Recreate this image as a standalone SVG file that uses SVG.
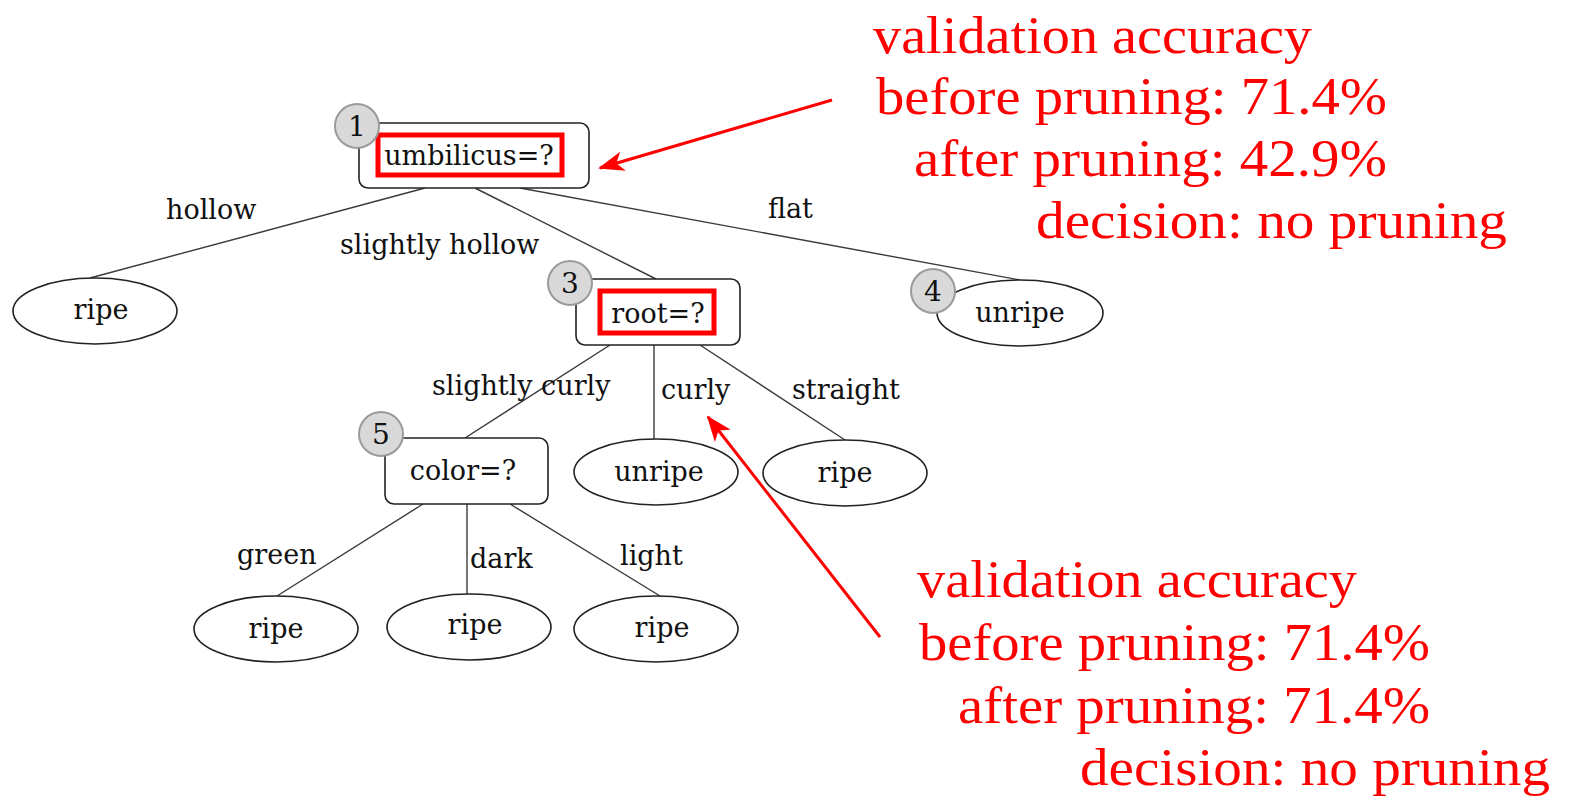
<svg xmlns="http://www.w3.org/2000/svg" width="1571" height="801" viewBox="0 0 1571 801">
  <style>
    .edge { stroke: #3a3a3a; stroke-width: 1.4; fill: none; }
    .box { fill: #ffffff; stroke: #222222; stroke-width: 1.6; }
    .leaf { fill: #ffffff; stroke: #222222; stroke-width: 1.6; }
    .badge { fill: #d9d9d9; stroke: #9a9a9a; stroke-width: 2; }
    .hl { fill: none; stroke: #ff0000; stroke-width: 5; }
    .t { font-family: "DejaVu Serif", "Liberation Serif", serif; font-size: 27px; fill: #111111; }
    .lbl { font-family: "DejaVu Serif", "Liberation Serif", serif; font-size: 27px; fill: #111111; }
    .num { font-family: "DejaVu Serif", "Liberation Serif", serif; font-size: 28px; fill: #111111; text-anchor: middle; }
    .note { font-family: "Liberation Serif", serif; font-size: 53px; fill: #ff0000; }
    .arrow { stroke: #ff0000; stroke-width: 3; fill: none; }
  </style>
  <defs>
    <marker id="stealth" viewBox="0 0 26 20" refX="24" refY="10" markerWidth="26" markerHeight="20" markerUnits="userSpaceOnUse" orient="auto">
      <path d="M0,0 L26,10 L0,20 L7,10 Z" fill="#ff0000"/>
    </marker>
  </defs>

  <g id="connectors">
    <line class="edge" x1="425" y1="188" x2="90" y2="278"/>
    <line class="edge" x1="475" y1="188" x2="656" y2="279"/>
    <line class="edge" x1="520" y1="188" x2="1020" y2="280"/>
    <line class="edge" x1="610" y1="345" x2="465" y2="438"/>
    <line class="edge" x1="654" y1="345" x2="654" y2="439"/>
    <line class="edge" x1="700" y1="345" x2="845" y2="440"/>
    <line class="edge" x1="423" y1="504" x2="277" y2="596"/>
    <line class="edge" x1="467" y1="504" x2="467" y2="594"/>
    <line class="edge" x1="510" y1="504" x2="660" y2="596"/>
    <text class="lbl" x="166" y="219">hollow</text>
    <text class="lbl" x="340" y="254">slightly hollow</text>
    <text class="lbl" x="768" y="218">flat</text>
    <text class="lbl" x="432" y="395">slightly curly</text>
    <text class="lbl" x="661" y="399">curly</text>
    <text class="lbl" x="792" y="399">straight</text>
    <text class="lbl" x="237" y="564">green</text>
    <text class="lbl" x="470" y="568">dark</text>
    <text class="lbl" x="620" y="565">light</text>
  </g>

  <g id="node1">
    <rect class="box" x="359" y="123" width="230" height="65" rx="9"/>
    <rect class="hl" x="378" y="135" width="184" height="40"/>
    <text class="t" x="469" y="165" text-anchor="middle">umbilicus=?</text>
    <circle class="badge" cx="357" cy="126" r="22"/>
    <text class="num" x="357" y="136">1</text>
  </g>

  <g id="leaf-hollow">
    <ellipse class="leaf" cx="95" cy="311" rx="82" ry="33"/>
    <text class="t" x="101" y="319" text-anchor="middle">ripe</text>
  </g>

  <g id="node3">
    <rect class="box" x="576" y="279" width="164" height="66" rx="9"/>
    <rect class="hl" x="600" y="291" width="114" height="42"/>
    <text class="t" x="658" y="323" text-anchor="middle">root=?</text>
    <circle class="badge" cx="570" cy="283" r="22"/>
    <text class="num" x="570" y="293">3</text>
  </g>

  <g id="node4">
    <ellipse class="leaf" cx="1020" cy="313" rx="83" ry="33"/>
    <text class="t" x="1020" y="322" text-anchor="middle">unripe</text>
    <circle class="badge" cx="933" cy="291" r="22"/>
    <text class="num" x="933" y="301">4</text>
  </g>

  <g id="node5">
    <rect class="box" x="385" y="438" width="163" height="66" rx="9"/>
    <text class="t" x="463" y="480" text-anchor="middle">color=?</text>
    <circle class="badge" cx="381" cy="434" r="22"/>
    <text class="num" x="381" y="444">5</text>
  </g>

  <g id="leaf-curly">
    <ellipse class="leaf" cx="656" cy="472" rx="82" ry="33"/>
    <text class="t" x="659" y="481" text-anchor="middle">unripe</text>
  </g>

  <g id="leaf-straight">
    <ellipse class="leaf" cx="845" cy="473" rx="82" ry="33"/>
    <text class="t" x="845" y="482" text-anchor="middle">ripe</text>
  </g>

  <g id="leaf-green">
    <ellipse class="leaf" cx="276" cy="629" rx="82" ry="33"/>
    <text class="t" x="276" y="638" text-anchor="middle">ripe</text>
  </g>

  <g id="leaf-dark">
    <ellipse class="leaf" cx="469" cy="627" rx="82" ry="33"/>
    <text class="t" x="475" y="634" text-anchor="middle">ripe</text>
  </g>

  <g id="leaf-light">
    <ellipse class="leaf" cx="656" cy="629" rx="82" ry="33"/>
    <text class="t" x="662" y="637" text-anchor="middle">ripe</text>
  </g>

  <g id="note-umbilicus">
    <line class="arrow" x1="832" y1="100" x2="600" y2="168" marker-end="url(#stealth)"/>
    <text class="note" x="873" y="53" textLength="439" lengthAdjust="spacingAndGlyphs">validation accuracy</text>
    <text class="note" x="876" y="114" textLength="511" lengthAdjust="spacingAndGlyphs">before pruning: 71.4%</text>
    <text class="note" x="914" y="176" textLength="473" lengthAdjust="spacingAndGlyphs">after pruning: 42.9%</text>
    <text class="note" x="1036" y="238" textLength="471" lengthAdjust="spacingAndGlyphs">decision: no pruning</text>
  </g>

  <g id="note-root">
    <line class="arrow" x1="880" y1="637" x2="708" y2="417" marker-end="url(#stealth)"/>
    <text class="note" x="917" y="597" textLength="440" lengthAdjust="spacingAndGlyphs">validation accuracy</text>
    <text class="note" x="919" y="660" textLength="511" lengthAdjust="spacingAndGlyphs">before pruning: 71.4%</text>
    <text class="note" x="958" y="723" textLength="472" lengthAdjust="spacingAndGlyphs">after pruning: 71.4%</text>
    <text class="note" x="1080" y="785" textLength="470" lengthAdjust="spacingAndGlyphs">decision: no pruning</text>
  </g>
</svg>
